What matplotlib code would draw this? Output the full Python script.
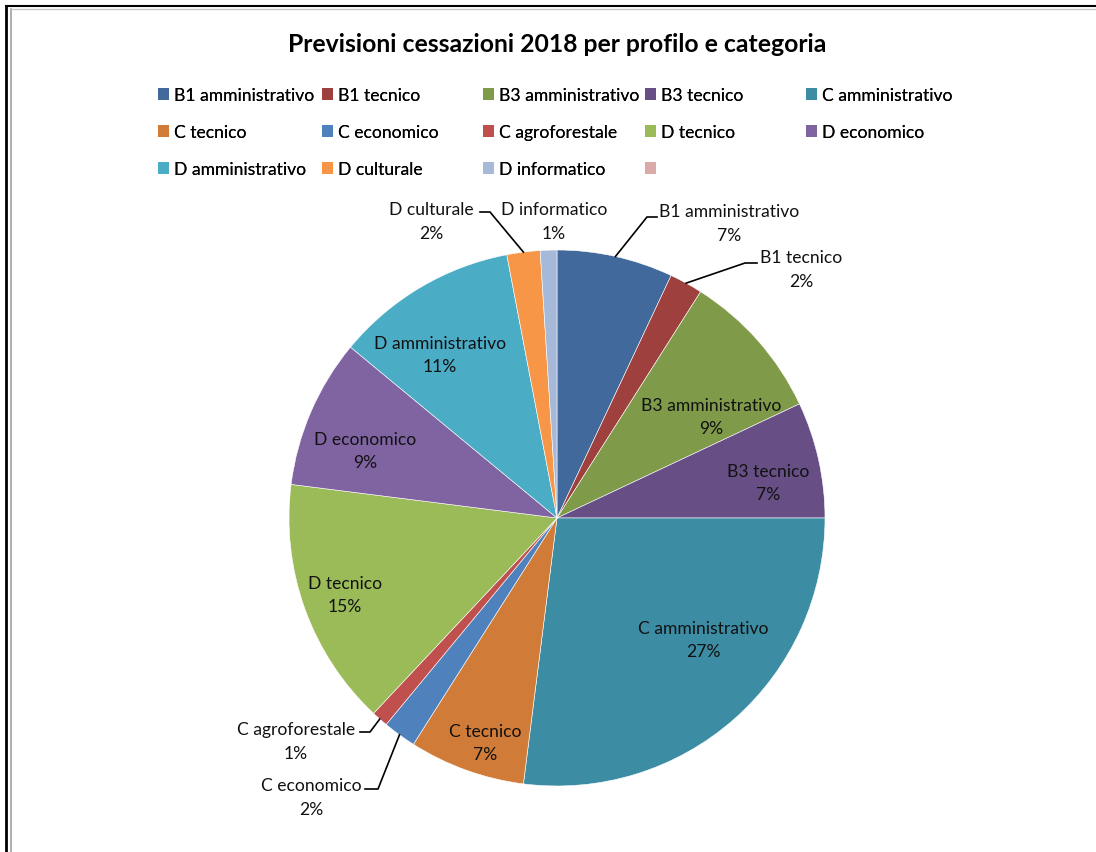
import numpy as np
import matplotlib
matplotlib.use("Agg")
import matplotlib.pyplot as plt
from matplotlib.patches import Patch
from matplotlib.lines import Line2D

plt.rcParams['font.family'] = ['Lato', 'DejaVu Sans']

title = "Previsioni cessazioni 2018 per profilo e categoria"

# profili / categorie e percentuali di cessazione
categorie = ["B1 amministrativo", "B1 tecnico", "B3 amministrativo", "B3 tecnico",
             "C amministrativo", "C tecnico", "C economico", "C agroforestale",
             "D tecnico", "D economico", "D amministrativo", "D culturale",
             "D informatico"]
percentuali = [7, 2, 9, 7, 27, 7, 2, 1, 15, 9, 11, 2, 1]

colori = ["#41699B", "#9E413E", "#7F9B4A", "#674F86", "#3C8DA3", "#D07C38",
          "#4F81BD", "#C0504D", "#9BBB59", "#8064A2", "#4BACC6", "#F79646",
          "#A7B9D9"]
# voce vuota in fondo alla legenda
colore_vuoto = "#DBA9A8"

W, H = 1096, 853
CX, CY, R = 557, 519, 268   # centro e raggio della torta in pixel


def px(x, y):
    # pixel -> coordinate dati (raggio torta = 1)
    return (x - CX) / R, (CY - y) / R


fig = plt.figure(figsize=(W / 100, H / 100), dpi=100)
ax = fig.add_axes([0, 0, 1, 1])

wedges, _ = ax.pie(percentuali, colors=colori, startangle=90, counterclock=False,
                   radius=1.0, wedgeprops=dict(edgecolor="white", linewidth=0.4))

# pie() imposta i propri limiti: li riscrivo dopo
ax.set_xlim(-CX / R, (W - CX) / R)
ax.set_ylim(-(H - CY) / R, CY / R)
ax.set_aspect("equal")
ax.axis("off")

fs = 12.6
ls = 1.55

# etichette interne: (raggio relativo, spostamento angolare orario in gradi)
interne = {2: (0.69, 8), 3: (0.80, 3), 4: (0.71, -9), 5: (0.88, -2),
           8: (0.84, 0), 9: (0.76, -4), 10: (0.75, -5)}
# etichette esterne: centro testo, gomito e fine del richiamo (pixel)
esterne = {0: ((729, 224), (647, 218), (657, 218)),
           1: ((801, 270), (745, 264), (757, 264)),
           7: ((296, 742), (370, 733), (360, 733)),
           6: ((311, 798), (378, 790), (365, 790)),
           11: ((431, 222), (490, 213), (480, 213)),
           12: ((554, 222), None, None)}

for i, w in enumerate(wedges):
    mid = np.deg2rad((w.theta1 + w.theta2) / 2)
    testo = f"{categorie[i]}\n{percentuali[i]}%"
    if i in interne:
        r, da = interne[i]
        a = mid - np.deg2rad(da)
        ax.text(r * np.cos(a), r * np.sin(a), testo, ha="center", va="center",
                fontsize=fs, linespacing=ls, color="#111111")
    else:
        (tx, ty), gomito, fine = esterne[i]
        x0, y0 = px(tx, ty)
        ax.text(x0, y0, testo, ha="center", va="center", fontsize=fs,
                linespacing=ls, color="#111111")
        if gomito is not None:
            ex, ey = np.cos(mid), np.sin(mid)
            gx, gy = px(*gomito)
            fx, fy = px(*fine)
            ax.plot([ex, gx, fx], [ey, gy, fy], color="black", lw=1.2,
                    solid_joinstyle="miter")

fig.text(557 / W, 1 - 44 / H, title, ha="center", va="center",
         fontsize=17.8, fontweight="bold")

# legenda su 5 colonne a larghezza fissa, ordine per righe
voci = [Patch(facecolor=c, edgecolor="none") for c in colori] + \
       [Patch(facecolor=colore_vuoto, edgecolor="none")]
etichette = categorie + [""]
col_x = [158, 322, 483, 645, 806]
for c, x in enumerate(col_x):
    idx = [k for k in range(c, len(voci), 5)]
    leg = fig.legend([voci[k] for k in idx], [etichette[k] for k in idx],
                     loc="upper left", bbox_to_anchor=(x / W, 1 - 88 / H),
                     frameon=False, fontsize=fs, handlelength=0.62,
                     handleheight=0.62, handletextpad=0.3, labelspacing=1.2,
                     borderpad=0, borderaxespad=0)
    fig.add_artist(leg)

# cornice
fig.add_artist(Line2D([6 / W, 6 / W], [0, 1 - 7 / H], color="black", lw=2))
fig.add_artist(Line2D([6 / W, 1], [1 - 7 / H, 1 - 7 / H], color="black", lw=1.5))
fig.add_artist(Line2D([11 / W, 11 / W], [0, 1 - 9.5 / H], color="#A0A0A0", lw=1.2))
fig.add_artist(Line2D([11 / W, 1], [1 - 9.5 / H, 1 - 9.5 / H], color="#C8C8C8", lw=1))

fig.savefig("out.png", dpi=100)
